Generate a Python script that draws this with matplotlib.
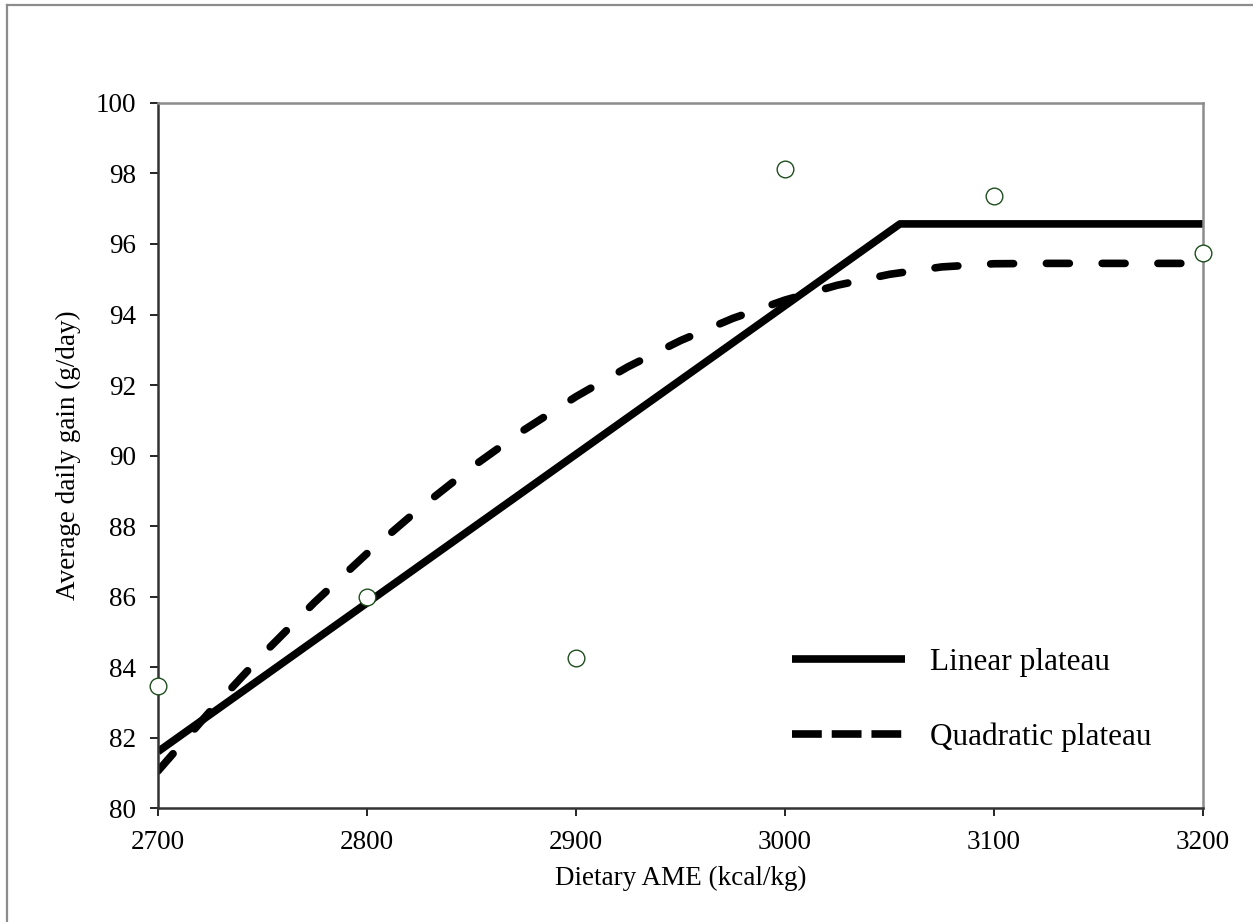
import matplotlib
matplotlib.use("Agg")
import matplotlib.pyplot as plt
from matplotlib.lines import Line2D

plt.rcParams['font.family'] = ['Liberation Serif', 'DejaVu Serif']

# observed means
ame = [2700, 2800, 2900, 3000, 3100, 3200]
adg = [83.45, 86.0, 84.25, 98.12, 97.35, 95.75]

# linear plateau fit (break point ~3055)
lin_x = [2700, 3055, 3200]
lin_y = [81.6, 96.57, 96.57]

# quadratic plateau fit
quad_x = [2700, 2725, 2750, 2775, 2800, 2825, 2850, 2875, 2900, 2925, 2950,
          2975, 3000, 3025, 3050, 3075, 3100, 3125, 3150, 3175, 3200]
quad_y = [81.05, 82.75, 84.35, 85.84, 87.22, 88.49, 89.66, 90.72, 91.67, 92.52, 93.26,
          93.89, 94.41, 94.83, 95.14, 95.35, 95.44, 95.45, 95.45, 95.45, 95.45]

x_ticks = [2700, 2800, 2900, 3000, 3100, 3200]
y_ticks = [80, 82, 84, 86, 88, 90, 92, 94, 96, 98, 100]

fig = plt.figure(figsize=(12.53, 9.22), dpi=100)
ax = fig.add_axes([158 / 1253, 1 - 808 / 922, 1045 / 1253, 705 / 922])

ax.plot(lin_x, lin_y, color='black', lw=5.5, solid_joinstyle='round',
        solid_capstyle='butt', zorder=2)
ax.plot(quad_x, quad_y, color='black', lw=5.5, dashes=(3.0, 4.3),
        dash_capstyle='round', zorder=2)
ax.plot(ame, adg, 'o', ms=12, mfc='white', mec='#1f4f1f', mew=1.0,
        clip_on=False, zorder=3)

ax.set_xlim(2700, 3200)
ax.set_ylim(80, 100)
ax.set_xticks(x_ticks)
ax.set_yticks(y_ticks)
ax.tick_params(direction='out', length=5.5, width=1.2, labelsize=19.5, pad=10)

ax.spines['left'].set_color('#333333')
ax.spines['bottom'].set_color('#333333')
ax.spines['top'].set_color('#8c8c8c')
ax.spines['right'].set_color('#8c8c8c')
for s in ax.spines.values():
    s.set_linewidth(1.8)

ax.set_xlabel('Dietary AME (kcal/kg)', fontsize=19.5, labelpad=8)
ax.set_ylabel('Average daily gain (g/day)', fontsize=19.5, labelpad=11)

handles = [Line2D([], [], color='black', lw=5.5, solid_capstyle='butt'),
           Line2D([], [], color='black', lw=5.5, dashes=(3.9, 1.3), dash_capstyle='butt')]
ax.legend(handles, ['Linear plateau', 'Quadratic plateau'],
          loc='center left', bbox_to_anchor=(0.6067, 0.153), frameon=False,
          fontsize=22.5, handlelength=3.6, handletextpad=0.8, labelspacing=1.45,
          borderpad=0, borderaxespad=0)

# outer frame of the figure (left and top edges)
fig.add_artist(Line2D([7 / 1253, 7 / 1253], [0, 1 - 5 / 922], color='#8c8c8c', lw=1.6))
fig.add_artist(Line2D([7 / 1253, 1], [1 - 5 / 922, 1 - 5 / 922], color='#8c8c8c', lw=1.6))

fig.savefig('out.png', dpi=100)
